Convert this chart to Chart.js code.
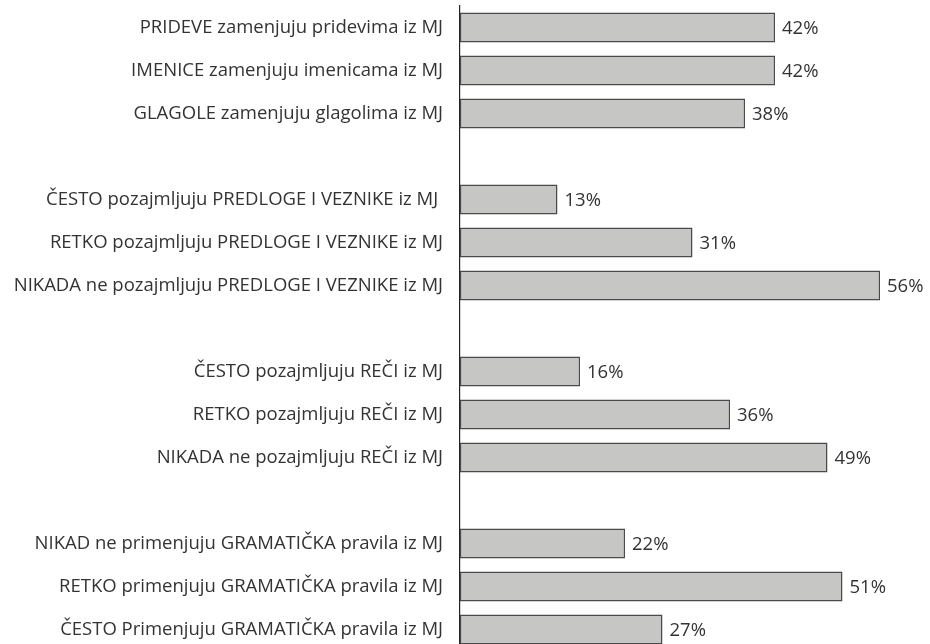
<!DOCTYPE html>
<html lang="sr">
<head>
    <meta charset="UTF-8">
    <title>Pozajmljivanje iz MJ</title>
    <script src="https://cdn.jsdelivr.net/npm/chart.js"></script>
    <style>
        html, body { margin: 0; padding: 0; background: #fff; overflow: hidden; }
        #wrap { position: relative; width: 930px; height: 651px; }
    </style>
</head>
<body>
    <div id="wrap"><canvas id="chart"></canvas></div>

    <script>
        // empty strings are the gaps between the groups
        const categories = [
            'PRIDEVE zamenjuju pridevima iz MJ',
            'IMENICE zamenjuju imenicama iz MJ',
            'GLAGOLE zamenjuju glagolima iz MJ',
            '',
            'ČESTO pozajmljuju PREDLOGE I VEZNIKE iz MJ ',
            'RETKO pozajmljuju PREDLOGE I VEZNIKE iz MJ',
            'NIKADA ne pozajmljuju PREDLOGE I VEZNIKE iz MJ',
            '',
            'ČESTO pozajmljuju REČI iz MJ',
            'RETKO pozajmljuju REČI iz MJ',
            'NIKADA ne pozajmljuju REČI iz MJ',
            '',
            'NIKAD ne primenjuju GRAMATIČKA pravila iz MJ',
            'RETKO primenjuju GRAMATIČKA pravila iz MJ',
            'ČESTO Primenjuju GRAMATIČKA pravila iz MJ'
        ];
        const percentages = [42, 42, 38, null, 13, 31, 56, null, 16, 36, 49, null, 22, 51, 27];

        const FONT = '"Open Sans", sans-serif';

        const valueLabels = {
            id: 'valueLabels',
            afterDatasetsDraw(chart) {
                const ctx = chart.ctx;
                const meta = chart.getDatasetMeta(0);
                ctx.save();
                ctx.font = '18.5px ' + FONT;
                ctx.fillStyle = '#333';
                ctx.textAlign = 'left';
                ctx.textBaseline = 'middle';
                meta.data.forEach((bar, i) => {
                    const v = percentages[i];
                    if (v === null) return;
                    ctx.fillText(v + '%', bar.x + 7, bar.y + 1);
                });
                ctx.restore();
            }
        };

        new Chart(document.getElementById('chart'), {
            type: 'bar',
            data: {
                labels: categories,
                datasets: [{
                    data: percentages,
                    backgroundColor: '#c6c7c5',
                    borderColor: '#4a4a4a',
                    borderWidth: 1.5,
                    borderSkipped: false,
                    categoryPercentage: 1,
                    barPercentage: 0.7
                }]
            },
            options: {
                indexAxis: 'y',
                responsive: true,
                maintainAspectRatio: false,
                animation: false,
                layout: { padding: { top: 6, right: 20, bottom: 0, left: 0 } },
                plugins: {
                    legend: { display: false },
                    tooltip: { enabled: false }
                },
                scales: {
                    x: {
                        display: false,
                        min: 0,
                        max: 60
                    },
                    y: {
                        afterFit(scale) {
                            scale.width = 460;
                            scale.paddingTop = 0;
                            scale.paddingBottom = 0;
                        },
                        grid: { display: false },
                        border: { display: true, color: '#222', width: 1.2 },
                        ticks: {
                            padding: 9,
                            color: '#333',
                            font: { family: FONT, size: 18.5 }
                        }
                    }
                }
            },
            plugins: [valueLabels]
        });
    </script>
</body>
</html>
